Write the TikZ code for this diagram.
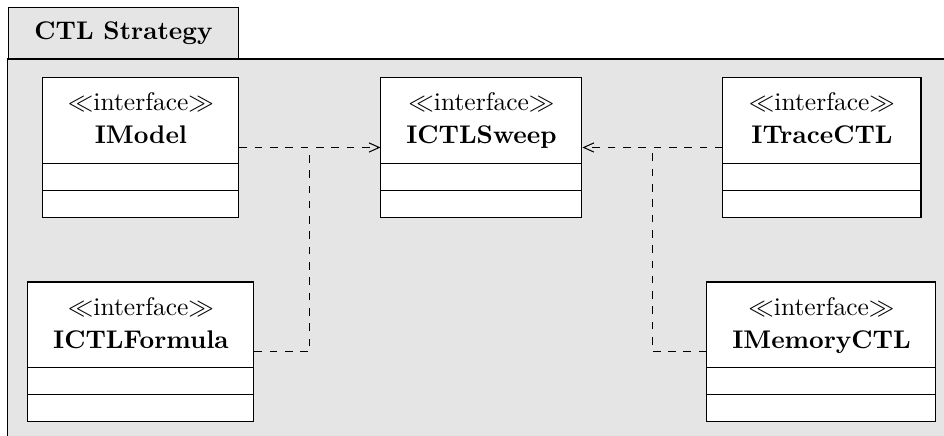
\documentclass[tikz,border=0pt]{standalone}
\usetikzlibrary{shapes.multipart,calc,arrows.meta}
\tikzset{
  iface/.style={draw, fill=white, anchor=north, rectangle split, rectangle split parts=3,
    inner ysep=2pt, rectangle split empty part height=6.2pt},
  dep/.style={dashed, -{Straight Barb[length=4pt,width=3.6pt]}},
  pkgtab/.style={draw, fill=black!10, font=\bfseries, anchor=south west,
    minimum width=3.169cm, minimum height=0.703cm}
}
\newcommand{\ifacetext}[1]{\begin{tabular}{@{}c@{}}\rule{0pt}{10.9pt}$\ll$interface$\gg$\\[0.9pt]\textbf{#1}\rule[-5.45pt]{0pt}{0pt}\end{tabular}%
  \nodepart{two}\rule{0pt}{6.2pt}\nodepart{three}\rule{0pt}{6.2pt}}
\begin{document}
\begin{tikzpicture}
\useasboundingbox (0,0) rectangle (13.005,5.993);
\clip (0,0) rectangle (13.005,5.993);
% package
\draw[fill=black!10] (0.110,5.180) rectangle (13.3,-0.3);
\node[pkgtab] (pkg) at (0.110,5.180) {CTL Strategy};
% interfaces
\node[iface, minimum width=2.700cm] (model) at (1.942,4.932) {\ifacetext{IModel}};
\node[iface, minimum width=2.769cm] (sweep) at (6.633,4.932) {\ifacetext{ICTLSweep}};
\node[iface, minimum width=2.728cm] (trace) at (11.324,4.932) {\ifacetext{ITraceCTL}};
\node[iface, minimum width=3.113cm] (formula) at (1.942,2.115) {\ifacetext{ICTLFormula}};
\node[iface, minimum width=3.155cm] (memory) at (11.317,2.115) {\ifacetext{IMemoryCTL}};
% dependencies
\coordinate (joinL) at ($(model.east)!.5!(sweep.west)$);
\coordinate (joinR) at ($(sweep.east)!.5!(trace.west)$);
\draw[dep] (model.east) -- (sweep.west);
\draw[dep] (trace.west) -- (sweep.east);
\draw[dashed] (formula.east) -| (joinL);
\draw[dashed] (memory.west) -| (joinR);
\end{tikzpicture}
\end{document}
